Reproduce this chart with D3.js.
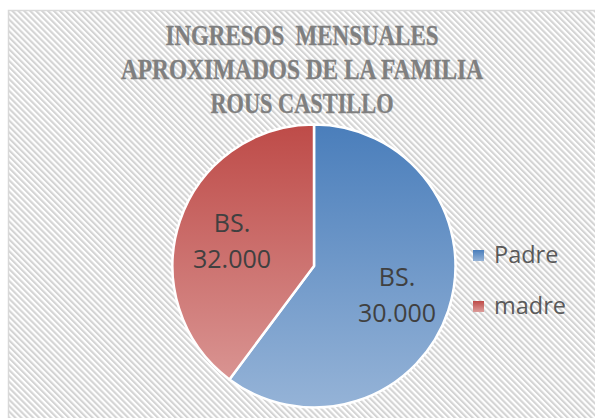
<!DOCTYPE html>
<html><head><meta charset="utf-8">
<script src="https://cdn.jsdelivr.net/npm/d3@7"></script>
<style>html,body{margin:0;padding:0;background:#fff;}svg{display:block;}</style>
</head><body>
<script>
const titleLines = ["INGRESOS  MENSUALES", "APROXIMADOS DE LA FAMILIA", "ROUS CASTILLO"];
const categories = ["Padre", "madre"];
const shares = [60.2, 39.8];           // slice sizes as drawn
const labelLines = [["BS.", "30.000"], ["BS.", "32.000"]];
const colorsTop = ["#4a7ebb", "#be4b48"];
const colorsBottom = ["#95b3d7", "#dc9c9a"];

const W = 595, H = 418;
const svg = d3.select("body").append("svg").attr("width", W).attr("height", H);
const defs = svg.append("defs");

const pat = defs.append("pattern").attr("id", "stripes").attr("patternUnits", "userSpaceOnUse")
  .attr("width", 4.2).attr("height", 4.2).attr("patternTransform", "rotate(-45)");
pat.append("rect").attr("width", 4.2).attr("height", 4.2).attr("fill", "#ffffff");
pat.append("rect").attr("width", 2.1).attr("height", 4.2).attr("fill", "#d4d4d4");

svg.append("rect").attr("width", W).attr("height", H).attr("fill", "#fff");
svg.append("rect").attr("x", 8.5).attr("y", 10.5).attr("width", W + 10).attr("height", H + 10)
  .attr("fill", "url(#stripes)").attr("stroke", "#d9d9d9").attr("stroke-width", 1.5);

// Title
const title = svg.append("g");
const tw = [273, 362, 183];
titleLines.forEach((t, i) => {
  title.append("text").attr("x", 302).attr("y", 45 + i * 33.8)
    .attr("text-anchor", "middle")
    .style("white-space", "pre")
    .attr("font-family", "Liberation Serif, DejaVu Serif, serif")
    .attr("font-weight", "bold").attr("font-size", 29.5)
    .attr("fill", "#7f7f7f").attr("stroke", "#7f7f7f").attr("stroke-width", 0.35)
    .attr("textLength", tw[i]).attr("lengthAdjust", "spacingAndGlyphs")
    .text(t);
});

// Pie
const cx = 314, cy = 266, r = 141.5;
categories.forEach((c, i) => {
  const g = defs.append("linearGradient").attr("id", "grad" + i)
    .attr("gradientUnits", "userSpaceOnUse")
    .attr("x1", 0).attr("y1", -r).attr("x2", 0).attr("y2", r);
  g.append("stop").attr("offset", 0).attr("stop-color", colorsTop[i]);
  g.append("stop").attr("offset", 1).attr("stop-color", colorsBottom[i]);
  const lg = defs.append("linearGradient").attr("id", "lgrad" + i)
    .attr("x1", 0).attr("y1", 0).attr("x2", 0).attr("y2", 1);
  lg.append("stop").attr("offset", 0).attr("stop-color", colorsTop[i]);
  lg.append("stop").attr("offset", 1).attr("stop-color", colorsBottom[i]);
});

const pie = d3.pie().sort(null).value(d => d);
const arcs = pie(shares);
const arc = d3.arc().innerRadius(0).outerRadius(r);
const pg = svg.append("g").attr("transform", `translate(${cx},${cy})`);
pg.selectAll("path").data(arcs).join("path")
  .attr("d", arc)
  .attr("fill", (d, i) => `url(#grad${i})`)
  .attr("stroke", "#fff").attr("stroke-width", 2.5).attr("stroke-linejoin", "round");

// Data labels
const labelPos = [[397, 286], [232, 232]];
arcs.forEach((a, i) => {
  const [lx, ly] = labelPos[i];
  labelLines[i].forEach((t, j) => {
    svg.append("text").attr("x", lx).attr("y", ly + j * 36)
      .attr("text-anchor", "middle")
      .attr("font-family", "Open Sans, Noto Sans, sans-serif")
      .attr("font-size", 25).attr("fill", "#404040")
      .text(t);
  });
});

// Legend
const lgd = svg.append("g");
categories.forEach((c, i) => {
  const y = 263 + i * 51;
  lgd.append("rect").attr("x", 473).attr("y", y - 13).attr("width", 11).attr("height", 11)
    .attr("fill", `url(#lgrad${i})`);
  lgd.append("text").attr("x", 494).attr("y", y)
    .attr("font-family", "Open Sans, Noto Sans, sans-serif")
    .attr("font-size", 23.5).attr("fill", "#595959")
    .text(c);
});
</script>
</body></html>
